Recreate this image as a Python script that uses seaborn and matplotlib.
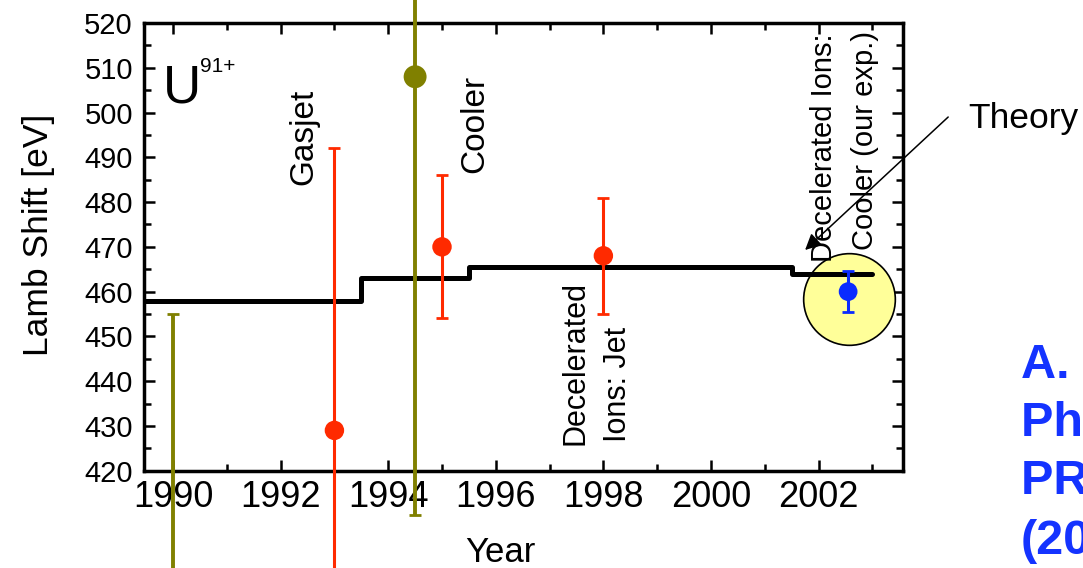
import numpy as np
import pandas as pd
import matplotlib
matplotlib.use("Agg")
import matplotlib.pyplot as plt
import seaborn as sns

exp_year  = [1990.0, 1993.0, 1994.5, 1995.0, 1998.0, 2002.55]
exp_shift = [338.0, 429.0, 508.0, 470.0, 468.0, 460.0]
exp_err   = [117.0, 63.0, 98.0, 16.0, 13.0, 4.5]
exp_group = ["early", "esr", "early", "esr", "esr", "ours"]

# theory prediction as a step function (value holds until next year)
theory_year  = [1989.0, 1993.5, 1995.5, 2001.5, 2003.0]
theory_shift = [458.0, 463.1, 465.4, 463.9, 463.9]

# highlighted point (our experiment)
highlight_year  = [2002.57]
highlight_shift = [458.4]

x_ticks = [1990, 1992, 1994, 1996, 1998, 2000, 2002]
y_ticks = [420, 430, 440, 450, 460, 470, 480, 490, 500, 510, 520]

ref_lines = ["A. Gumberidze", "PhD Thesis", "PRL 94, 223001", "(2005)"]

palette = {"early": "#808000", "esr": "#FF2A00", "ours": "#0A2BFF"}
sizes   = {"early": 16.5**2, "esr": 14**2, "ours": 13.5**2}
elw     = {"early": 2.8, "esr": 2.2, "ours": 2.2}

df = pd.DataFrame({"year": exp_year, "shift": exp_shift, "err": exp_err, "group": exp_group})
theory = pd.DataFrame({"year": theory_year, "shift": theory_shift})

sns.set_theme(style="ticks")
plt.rcParams['font.family'] = ['Liberation Sans', 'DejaVu Sans']
plt.rcParams.update({"text.color": "black", "axes.labelcolor": "black",
                     "xtick.color": "black", "ytick.color": "black"})

fig = plt.figure(figsize=(10.83, 5.68), dpi=100)
ax = fig.add_axes([0.13296, 0.17130, 0.70083, 0.78820])

# yellow highlight behind our point
ax.scatter(highlight_year, highlight_shift, s=66**2, color="#FFFF99",
           edgecolor="black", linewidth=1.2, zorder=2, clip_on=False)

# theory steps
sns.lineplot(data=theory, x="year", y="shift", drawstyle="steps-post",
             color="black", linewidth=3.6, ax=ax, zorder=3)

# error bars, allowed to run past the frame
for grp, sub in df.groupby("group"):
    eb = ax.errorbar(sub["year"], sub["shift"], yerr=sub["err"], fmt="none",
                     ecolor=palette[grp], elinewidth=elw[grp], capsize=4.5,
                     capthick=2.0, zorder=4)
    for art in eb.get_children():
        art.set_clip_on(False)

sns.scatterplot(data=df, x="year", y="shift", hue="group", palette=palette,
                size="group", sizes=sizes, edgecolor="none", legend=False,
                ax=ax, zorder=5)

ax.set_xlim(1989.46, 2003.57)
ax.set_ylim(420, 520)
ax.set_xticks(x_ticks)
ax.set_xticks(np.arange(1990, 2004), minor=True)
ax.set_yticks(y_ticks)
ax.set_yticks(np.arange(420, 521, 5), minor=True)

for sp in ax.spines.values():
    sp.set_linewidth(2.5)
    sp.set_color("black")
ax.tick_params(which="both", direction="in", top=True, right=True,
               width=1.8, color="black")
ax.tick_params(which="major", length=8)
ax.tick_params(which="minor", length=5)
ax.tick_params(axis="x", labelsize=26, pad=6.5)
ax.tick_params(axis="y", labelsize=21, pad=8)

ax.set_xlabel("Year", fontsize=25)
ax.set_ylabel("Lamb Shift [eV]", fontsize=25.5)
ax.xaxis.set_label_coords(0.469, -0.145)
ax.yaxis.set_label_coords(-0.117, 0.5265)

# ion label
ax.text(1989.82, 502.35, "U", fontsize=38, ha="left", va="baseline")
ax.text(1990.5, 509.1, "91+", fontsize=15, ha="left", va="baseline")

# rotated experiment labels
labels = [
    ("Gasjet", 1992.44, 483.8, 24),
    ("Cooler", 1995.61, 486.5, 24),
    ("Decelerated", 1997.49, 425.7, 22),
    ("Ions: Jet", 1998.27, 426.4, 22),
    ("Decelerated Ions:", 2002.10, 466.6, 21),
    ("Cooler (our exp.)", 2002.87, 469.3, 21),
]
for txt, lx, ly, fs in labels:
    ax.text(lx, ly, txt, rotation=90, ha="center", va="bottom", fontsize=fs,
            zorder=6)

# theory arrow
ax.annotate("", xy=(2001.75, 469.3), xytext=(2004.41, 499.0),
            arrowprops=dict(arrowstyle="-|>", color="black", lw=1.1,
                            mutation_scale=24, shrinkA=0, shrinkB=0),
            annotation_clip=False, zorder=7)
fig.text(968 / 1083, 1 - 128 / 568, "Theory", fontsize=25.5,
         ha="left", va="baseline")

# reference on the slide (runs off the right edge, as in the original)
for i, line in enumerate(ref_lines):
    fig.text(1021 / 1083, 1 - (378 + 58.5 * i) / 568, line,
             fontsize=35, fontweight="bold", color="#1433FF",
             ha="left", va="baseline")

fig.savefig("out.png", dpi=100)
